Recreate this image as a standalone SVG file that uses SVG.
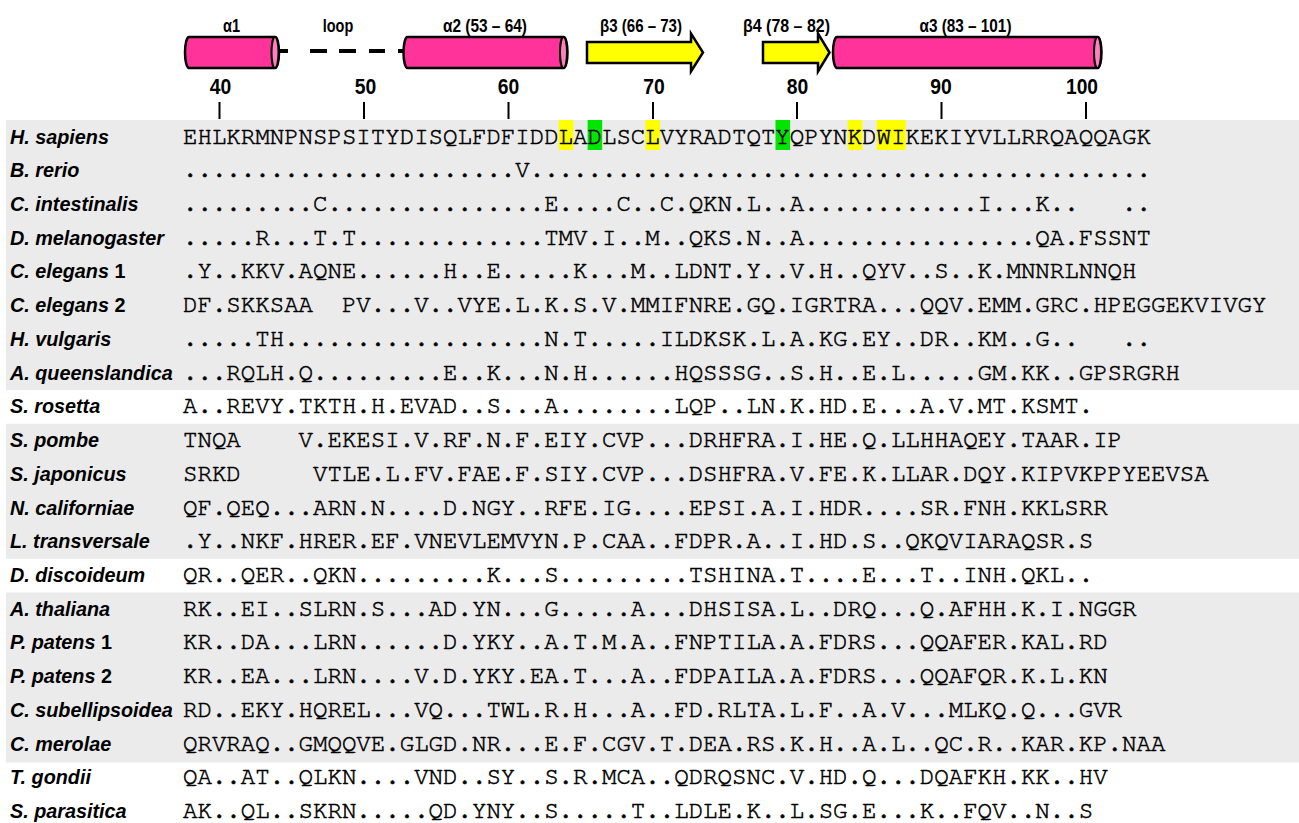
<svg xmlns="http://www.w3.org/2000/svg" width="1299" height="823" viewBox="0 0 1299 823">
<style>
.bg{fill:#ebebeb}
.nm{font-family:"Liberation Sans",Arial,sans-serif;font-weight:bold;font-style:italic;font-size:19.8px;fill:#000}
.nm tspan.n{font-style:normal}
.sq{font-family:"Nimbus Mono PS","Nimbus Mono L","FreeMono","Courier New","Liberation Mono",monospace;font-weight:normal;font-size:24.08px;fill:#000;stroke:#000;stroke-width:0.55px;white-space:pre}
.lb{font-family:"Liberation Sans",Arial,sans-serif;font-weight:bold;font-size:17.5px;fill:#000;text-anchor:middle}
.tk{font-family:"Liberation Sans",Arial,sans-serif;font-weight:bold;font-size:22.3px;fill:#000;text-anchor:middle}
.hx{fill:#ff3399;stroke:#000;stroke-width:2.5}
.hxe{fill:#ff80c0;stroke:#000;stroke-width:2}
.st{fill:#ffff00;stroke:#000;stroke-width:2.5;stroke-linejoin:miter}
.tl{stroke:#000;stroke-width:2}
.yh{fill:#ffff00}
.gh{fill:#00e600}
</style>

<g id="background">
<rect class="bg" x="6" y="120" width="1293" height="270"/>
<rect class="bg" x="6" y="423.75" width="1293" height="135"/>
<rect class="bg" x="6" y="592.5" width="1293" height="170"/>
</g>

<g id="secondary-structure">
<g id="alpha1">
<path class="hx" d="M189,37 H275 A4,15.5 0 0 1 275,68 H189 A4,15.5 0 0 1 189,37 Z"/>
<ellipse class="hxe" cx="275" cy="52.5" rx="3.5" ry="15.5"/>
<text class="lb" x="231.5" y="31.5" textLength="17" lengthAdjust="spacingAndGlyphs">α1</text>
</g>
<g id="loop">
<text class="lb" x="338" y="31.5" textLength="30.5" lengthAdjust="spacingAndGlyphs">loop</text>
</g>
<g id="alpha2">
<path class="hx" d="M407.5,37 H563.5 A4,15.5 0 0 1 563.5,68 H407.5 A4,15.5 0 0 1 407.5,37 Z"/>
<ellipse class="hxe" cx="563.5" cy="52.5" rx="3.5" ry="15.5"/>
<text class="lb" x="485" y="31.5" textLength="84" lengthAdjust="spacingAndGlyphs">α2 (53 – 64)</text>
</g>
<g id="beta3">
<path class="st" d="M587,42 H691 V33.5 L703,52.5 L691,71.5 V63 H587 Z"/>
<text class="lb" x="641" y="31.5" textLength="82" lengthAdjust="spacingAndGlyphs">β3 (66 – 73)</text>
</g>
<g id="beta4">
<path class="st" d="M763,42 H818 V33.5 L829.5,52.5 L818,71.5 V63 H763 Z"/>
<text class="lb" x="786.5" y="31.5" textLength="87" lengthAdjust="spacingAndGlyphs">β4 (78 – 82)</text>
</g>
<g id="alpha3">
<path class="hx" d="M837,37 H1097.5 A4,15.5 0 0 1 1097.5,68 H837 A4,15.5 0 0 1 837,37 Z"/>
<ellipse class="hxe" cx="1097.5" cy="52.5" rx="3.5" ry="15.5"/>
<text class="lb" x="965.5" y="31.5" textLength="92" lengthAdjust="spacingAndGlyphs">α3 (83 – 101)</text>
</g>
</g>

<g id="connectors">
<path d="M279,51 H288 M310,51 H327 M339,51 H356 M369,51 H385 M398,51 H404" stroke="#000" stroke-width="4" fill="none"/>
</g>

<g id="ruler">
<text class="tk" x="220.5" y="94.3" textLength="21.5" lengthAdjust="spacingAndGlyphs">40</text>
<text class="tk" x="365.5" y="94.3" textLength="21.5" lengthAdjust="spacingAndGlyphs">50</text>
<text class="tk" x="508.5" y="94.3" textLength="21.5" lengthAdjust="spacingAndGlyphs">60</text>
<text class="tk" x="654" y="94.3" textLength="21.5" lengthAdjust="spacingAndGlyphs">70</text>
<text class="tk" x="797.5" y="94.3" textLength="21.5" lengthAdjust="spacingAndGlyphs">80</text>
<text class="tk" x="941" y="94.3" textLength="21.5" lengthAdjust="spacingAndGlyphs">90</text>
<text class="tk" x="1082" y="94.3" textLength="32" lengthAdjust="spacingAndGlyphs">100</text>
<path class="tl" d="M219.5,102 V119 M364,102 V119 M508.5,102 V119 M653,102 V119 M797,102 V119 M941.5,102 V119 M1086,102 V119"/>
</g>

<g id="highlights">
<rect class="yh" x="558.7" y="120" width="14.6" height="30"/>
<rect class="gh" x="587.6" y="120" width="14.6" height="30"/>
<rect class="yh" x="645.4" y="120" width="14.6" height="30"/>
<rect class="gh" x="775.5" y="120" width="14.6" height="30"/>
<rect class="yh" x="847.7" y="120" width="14.6" height="30"/>
<rect class="yh" x="876.6" y="120" width="29.1" height="30"/>
</g>

<g id="row-h-sapiens"><text class="nm" x="10" y="143.5">H. sapiens</text><text class="sq" x="183" y="143.5" xml:space="preserve">EHLKRMNPNSPSITYDISQLFDFIDDLADLSCLVYRADTQTYQPYNKDWIKEKIYVLLRRQAQQAGK</text></g>
<g id="row-b-rerio"><text class="nm" x="10" y="177.2">B. rerio</text><text class="sq" x="183" y="177.2" xml:space="preserve">.......................V...........................................</text></g>
<g id="row-c-intestinalis"><text class="nm" x="10" y="211">C. intestinalis</text><text class="sq" x="183" y="211" xml:space="preserve">.........C...............E....C..C.QKN.L..A............I...K..   ..</text></g>
<g id="row-d-melanogaster"><text class="nm" x="10" y="244.7">D. melanogaster</text><text class="sq" x="183" y="244.7" xml:space="preserve">.....R...T.T.............TMV.I..M..QKS.N..A................QA.FSSNT</text></g>
<g id="row-c-elegans-1"><text class="nm" x="10" y="278.4">C. elegans<tspan class="n"> 1</tspan></text><text class="sq" x="183" y="278.4" xml:space="preserve">.Y..KKV.AQNE......H..E.....K...M..LDNT.Y..V.H..QYV..S..K.MNNRLNNQH</text></g>
<g id="row-c-elegans-2"><text class="nm" x="10" y="312.2">C. elegans<tspan class="n"> 2</tspan></text><text class="sq" x="183" y="312.2" xml:space="preserve">DF.SKKSAA  PV...V..VYE.L.K.S.V.MMIFNRE.GQ.IGRTRA...QQV.EMM.GRC.HPEGGEKVIVGY</text></g>
<g id="row-h-vulgaris"><text class="nm" x="10" y="345.9">H. vulgaris</text><text class="sq" x="183" y="345.9" xml:space="preserve">.....TH..................N.T.....ILDKSK.L.A.KG.EY..DR..KM..G..   ..</text></g>
<g id="row-a-queenslandica"><text class="nm" x="10" y="379.6">A. queenslandica</text><text class="sq" x="183" y="379.6" xml:space="preserve">...RQLH.Q.........E..K...N.H......HQSSSG..S.H..E.L.....GM.KK..GPSRGRH</text></g>
<g id="row-s-rosetta"><text class="nm" x="10" y="413.3">S. rosetta</text><text class="sq" x="183" y="413.3" xml:space="preserve">A..REVY.TKTH.H.EVAD..S...A........LQP..LN.K.HD.E...A.V.MT.KSMT.</text></g>
<g id="row-s-pombe"><text class="nm" x="10" y="447.1">S. pombe</text><text class="sq" x="183" y="447.1" xml:space="preserve">TNQA    V.EKESI.V.RF.N.F.EIY.CVP...DRHFRA.I.HE.Q.LLHHAQEY.TAAR.IP</text></g>
<g id="row-s-japonicus"><text class="nm" x="10" y="480.8">S. japonicus</text><text class="sq" x="183" y="480.8" xml:space="preserve">SRKD     VTLE.L.FV.FAE.F.SIY.CVP...DSHFRA.V.FE.K.LLAR.DQY.KIPVKPPYEEVSA</text></g>
<g id="row-n-californiae"><text class="nm" x="10" y="514.5">N. californiae</text><text class="sq" x="183" y="514.5" xml:space="preserve">QF.QEQ...ARN.N....D.NGY..RFE.IG....EPSI.A.I.HDR....SR.FNH.KKLSRR</text></g>
<g id="row-l-transversale"><text class="nm" x="10" y="548.3">L. transversale</text><text class="sq" x="183" y="548.3" xml:space="preserve">.Y..NKF.HRER.EF.VNEVLEMVYN.P.CAA..FDPR.A..I.HD.S..QKQVIARAQSR.S</text></g>
<g id="row-d-discoideum"><text class="nm" x="10" y="582">D. discoideum</text><text class="sq" x="183" y="582" xml:space="preserve">QR..QER..QKN.........K...S.........TSHINA.T....E...T..INH.QKL..</text></g>
<g id="row-a-thaliana"><text class="nm" x="10" y="615.7">A. thaliana</text><text class="sq" x="183" y="615.7" xml:space="preserve">RK..EI..SLRN.S...AD.YN...G.....A...DHSISA.L..DRQ...Q.AFHH.K.I.NGGR</text></g>
<g id="row-p-patens-1"><text class="nm" x="10" y="649.4">P. patens<tspan class="n"> 1</tspan></text><text class="sq" x="183" y="649.4" xml:space="preserve">KR..DA...LRN......D.YKY..A.T.M.A..FNPTILA.A.FDRS...QQAFER.KAL.RD</text></g>
<g id="row-p-patens-2"><text class="nm" x="10" y="683.2">P. patens<tspan class="n"> 2</tspan></text><text class="sq" x="183" y="683.2" xml:space="preserve">KR..EA...LRN....V.D.YKY.EA.T...A..FDPAILA.A.FDRS...QQAFQR.K.L.KN</text></g>
<g id="row-c-subellipsoidea"><text class="nm" x="10" y="716.9">C. subellipsoidea</text><text class="sq" x="183" y="716.9" xml:space="preserve">RD..EKY.HQREL...VQ...TWL.R.H...A..FD.RLTA.L.F..A.V...MLKQ.Q...GVR</text></g>
<g id="row-c-merolae"><text class="nm" x="10" y="750.6">C. merolae</text><text class="sq" x="183" y="750.6" xml:space="preserve">QRVRAQ..GMQQVE.GLGD.NR...E.F.CGV.T.DEA.RS.K.H..A.L..QC.R..KAR.KP.NAA</text></g>
<g id="row-t-gondii"><text class="nm" x="10" y="784.4">T. gondii</text><text class="sq" x="183" y="784.4" xml:space="preserve">QA..AT..QLKN....VND..SY..S.R.MCA..QDRQSNC.V.HD.Q...DQAFKH.KK..HV</text></g>
<g id="row-s-parasitica"><text class="nm" x="10" y="818.1">S. parasitica</text><text class="sq" x="183" y="818.1" xml:space="preserve">AK..QL..SKRN.....QD.YNY..S.....T..LDLE.K..L.SG.E...K..FQV..N..S</text></g>
</svg>
